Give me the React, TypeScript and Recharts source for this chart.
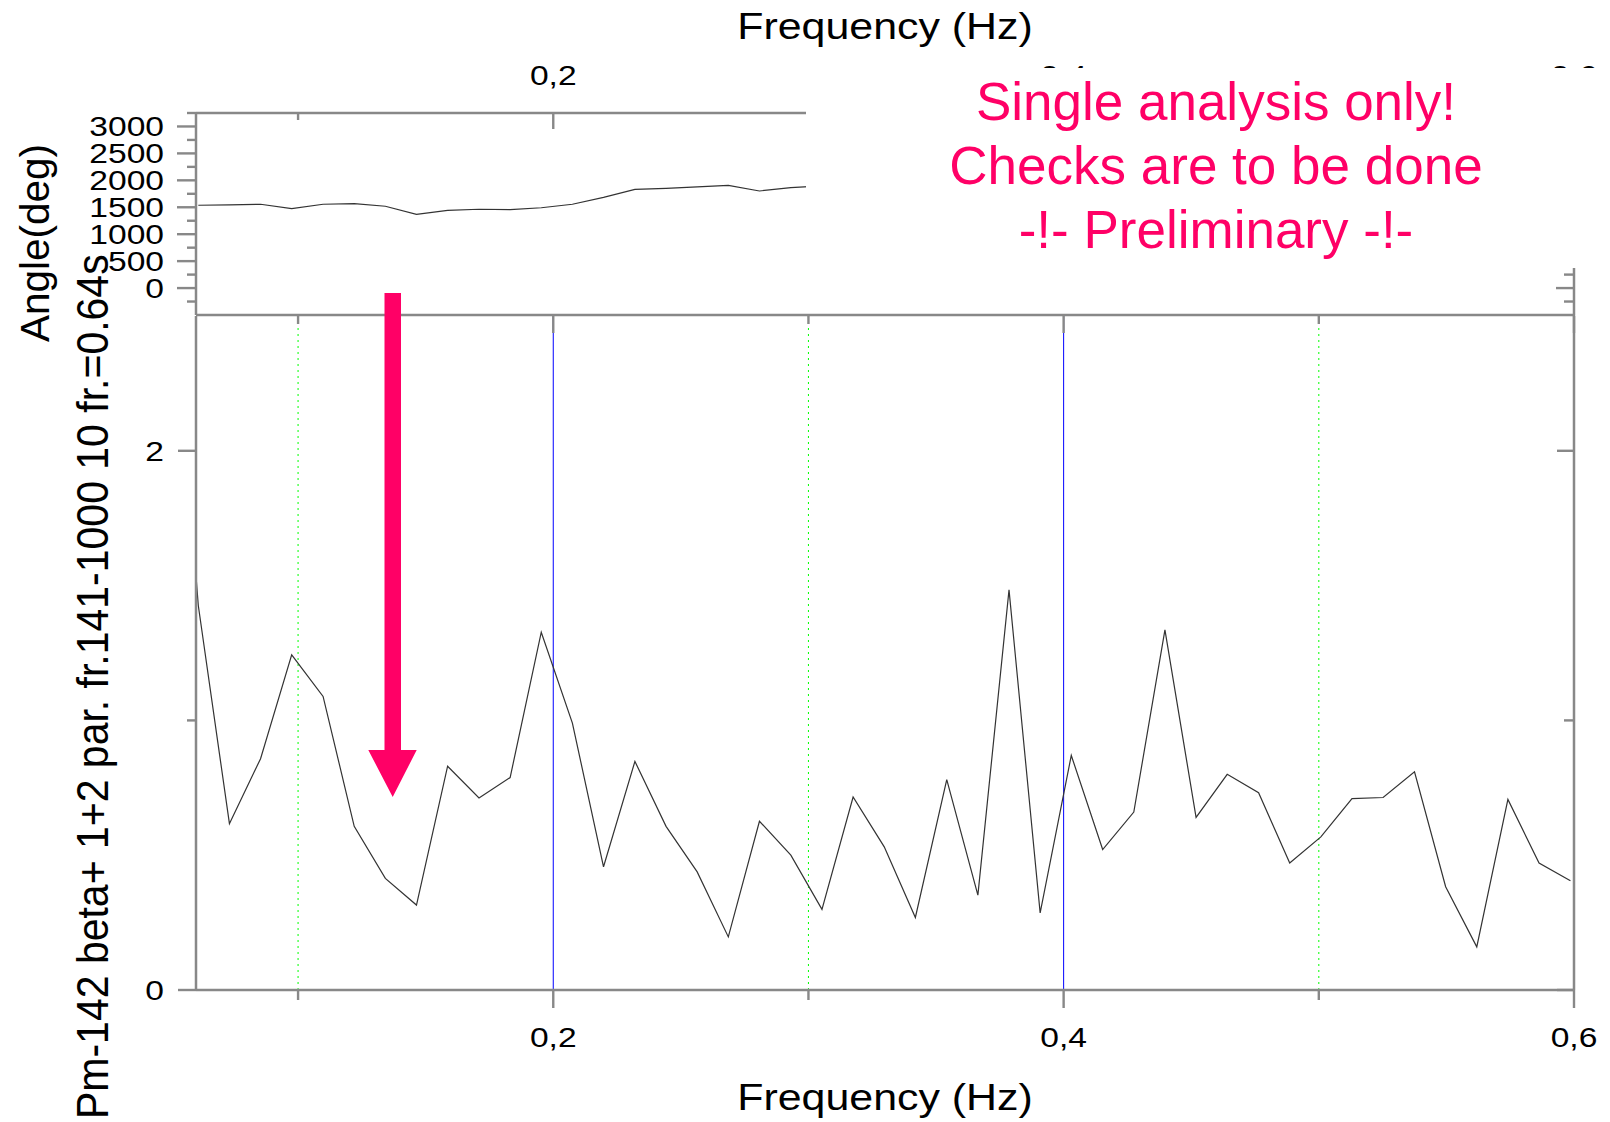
import { LineChart, Line, XAxis, YAxis, ReferenceLine } from 'recharts';

// frequency grid (Hz); the first sample lies left of the plotted range and is clipped
const FREQ = [
  0.0487, 0.0609, 0.0731, 0.0853, 0.0975, 0.1098, 0.122, 0.1342, 0.1464, 0.1586,
  0.1709, 0.1831, 0.1953, 0.2075, 0.2197, 0.232, 0.2442, 0.2564, 0.2686, 0.2808,
  0.2931, 0.3053, 0.3175, 0.3297, 0.3419, 0.3542, 0.3664, 0.3786, 0.3908, 0.403,
  0.4153, 0.4275, 0.4397, 0.4519, 0.4641, 0.4764, 0.4886, 0.5008, 0.513, 0.5252,
  0.5375, 0.5497, 0.5619, 0.5741, 0.5863, 0.5986,
];

// lower panel amplitude
const AMP = [
  2.9, 1.426, 0.617, 0.858, 1.243, 1.089, 0.607, 0.414, 0.315, 0.83,
  0.712, 0.788, 1.327, 0.99, 0.457, 0.848, 0.607, 0.438, 0.197, 0.626,
  0.5, 0.299, 0.716, 0.531, 0.269, 0.78, 0.352, 1.484, 0.286, 0.87,
  0.521, 0.66, 1.336, 0.64, 0.8, 0.732, 0.471, 0.568, 0.71, 0.714,
  0.809, 0.383, 0.16, 0.707, 0.471, 0.405,
];

// upper panel phase angle (deg), visible part only
const ANGLE_FREQ = FREQ.slice(1, 22);
const ANGLE = [
  1537, 1546, 1556, 1476, 1556, 1569, 1519, 1370, 1444, 1463, 1457,
  1491, 1556, 1685, 1833, 1852, 1880, 1907, 1802, 1865, 1898,
];

const X_TICKS = [0.1, 0.2, 0.3, 0.4, 0.5, 0.6];
const X_MAJOR = [0.2, 0.4, 0.6];
const ANGLE_TICKS = [-250, 0, 250, 500, 750, 1000, 1250, 1500, 1750, 2000, 2250, 2500, 2750, 3000, 3250];
const ANGLE_MAJOR = [0, 500, 1000, 1500, 2000, 2500, 3000];
const AMP_TICKS = [0, 1, 2];
const AMP_MAJOR = [0, 2];
const BLUE_LINES = [0.2, 0.4];
const GREEN_LINES = [0.1, 0.3, 0.5];
const NOTE = ['Single analysis only!', 'Checks are to be done', '-!- Preliminary -!-'];

const W = 1610;
const H = 1122;
const AXIS = '#888888';
const FONT = '"Liberation Sans", Arial, sans-serif';
const PINK = '#ff0066';

const ampData = FREQ.map((f, i) => ({ f, amp: AMP[i] }));
const angleData = ANGLE_FREQ.map((f, i) => ({ f, angle: ANGLE[i] }));

const fmt = (v: number) => String(v).replace('.', ',');

type Side = 'left' | 'right' | 'top' | 'bottom';

function tickRenderer(side: Side, inward: boolean, majors: number[], labels: number[], majorLen: number, minorLen: number, gap: number) {
  return (props: any) => {
    const { x, y, payload } = props;
    const v = payload.value;
    const len = majors.includes(v) ? majorLen : minorLen;
    const dir = inward ? -1 : 1;
    let x2 = x;
    let y2 = y;
    if (side === 'left') x2 = x - dir * len;
    if (side === 'right') x2 = x + dir * len;
    if (side === 'top') y2 = y - dir * len;
    if (side === 'bottom') y2 = y + dir * len;
    let label = null;
    if (labels.includes(v)) {
      const lx = side === 'left' ? x - gap : side === 'right' ? x + gap : x;
      const ly = side === 'top' ? y - gap : side === 'bottom' ? y + gap : y;
      const anchor = side === 'left' ? 'end' : side === 'right' ? 'start' : 'middle';
      label = (
        <text transform={`translate(${lx},${ly}) scale(1.2,1)`} dy={10} textAnchor={anchor} fontSize={28} fill="#000">
          {fmt(v)}
        </text>
      );
    }
    return (
      <g>
        <line x1={x} y1={y} x2={x2} y2={y2} stroke={AXIS} strokeWidth={2.4} />
        {label}
      </g>
    );
  };
}

const axisLine = { stroke: AXIS, strokeWidth: 2.5 };

export default function App() {
  return (
    <div style={{ position: 'absolute', left: 0, top: 0, width: W, height: H, background: '#fff', fontFamily: FONT }}>
      {/* lower panel */}
      <div style={{ position: 'absolute', left: 0, top: 0 }}>
        <LineChart width={W} height={H} data={ampData} margin={{ top: 316, right: 35, bottom: 131, left: 195 }}>
          <XAxis
            xAxisId="b"
            dataKey="f"
            type="number"
            domain={[0.06, 0.6]}
            allowDataOverflow
            orientation="bottom"
            height={1}
            ticks={X_TICKS}
            interval={0}
            tickSize={0}
            tickMargin={0}
            tickLine={false}
            axisLine={axisLine}
            tick={tickRenderer('bottom', false, X_MAJOR, X_MAJOR, 18, 10, 47)}
          />
          <YAxis
            yAxisId="l"
            type="number"
            domain={[0, 2.5]}
            allowDataOverflow
            orientation="left"
            width={1}
            ticks={AMP_TICKS}
            interval={0}
            tickSize={0}
            tickMargin={0}
            tickLine={false}
            axisLine={axisLine}
            tick={tickRenderer('left', false, AMP_MAJOR, AMP_MAJOR, 18, 9, 32)}
          />
          <YAxis
            yAxisId="r"
            type="number"
            domain={[0, 2.5]}
            allowDataOverflow
            orientation="right"
            width={1}
            ticks={AMP_TICKS}
            interval={0}
            tickSize={0}
            tickMargin={0}
            tickLine={false}
            axisLine={axisLine}
            tick={tickRenderer('right', true, AMP_MAJOR, [], 17, 10, 0)}
          />
          {GREEN_LINES.map((v) => (
            <ReferenceLine key={`g${v}`} xAxisId="b" yAxisId="l" x={v} stroke="#00ff00" strokeWidth={1} strokeDasharray="2 4" />
          ))}
          {BLUE_LINES.map((v) => (
            <ReferenceLine key={`b${v}`} xAxisId="b" yAxisId="l" x={v} stroke="#0000ff" strokeWidth={1} />
          ))}
          <Line
            xAxisId="b"
            yAxisId="l"
            dataKey="amp"
            type="linear"
            stroke="#333"
            strokeWidth={1.2}
            dot={false}
            activeDot={false}
            isAnimationActive={false}
          />
        </LineChart>
      </div>

      {/* upper panel */}
      <div style={{ position: 'absolute', left: 0, top: 0 }}>
        <LineChart width={W} height={H} data={angleData} margin={{ top: 112, right: 35, bottom: 806, left: 195 }}>
          <XAxis
            xAxisId="t"
            dataKey="f"
            type="number"
            domain={[0.06, 0.6]}
            allowDataOverflow
            orientation="top"
            height={1}
            ticks={X_TICKS}
            interval={0}
            tickSize={0}
            tickMargin={0}
            tickLine={false}
            axisLine={axisLine}
            tick={tickRenderer('top', true, X_MAJOR, X_MAJOR, 16, 7, 38)}
          />
          <XAxis
            xAxisId="b"
            dataKey="f"
            type="number"
            domain={[0.06, 0.6]}
            allowDataOverflow
            orientation="bottom"
            height={1}
            ticks={X_TICKS}
            interval={0}
            tickSize={0}
            tickMargin={0}
            tickLine={false}
            axisLine={axisLine}
            tick={tickRenderer('bottom', false, X_MAJOR, [], 18, 9, 0)}
          />
          <YAxis
            yAxisId="l"
            type="number"
            domain={[-500, 3250]}
            allowDataOverflow
            orientation="left"
            width={1}
            ticks={ANGLE_TICKS}
            interval={0}
            tickSize={0}
            tickMargin={0}
            tickLine={false}
            axisLine={axisLine}
            tick={tickRenderer('left', false, ANGLE_MAJOR, ANGLE_MAJOR, 19, 9, 32)}
          />
          <YAxis
            yAxisId="r"
            type="number"
            domain={[-500, 3250]}
            allowDataOverflow
            orientation="right"
            width={1}
            ticks={ANGLE_TICKS}
            interval={0}
            tickSize={0}
            tickMargin={0}
            tickLine={false}
            axisLine={axisLine}
            tick={tickRenderer('right', true, ANGLE_MAJOR, [], 18, 10, 0)}
          />
          <Line
            xAxisId="t"
            yAxisId="l"
            dataKey="angle"
            type="linear"
            stroke="#333"
            strokeWidth={1.2}
            dot={false}
            activeDot={false}
            isAnimationActive={false}
          />
        </LineChart>
      </div>

      {/* annotations */}
      <svg width={W} height={H} style={{ position: 'absolute', left: 0, top: 0, pointerEvents: 'none' }}>
        <rect x={806} y={68} width={W - 806} height={200} fill="#fff" />
        <text transform="translate(885,39) scale(1.16,1)" textAnchor="middle" fontSize={37} fill="#000">
          Frequency (Hz)
        </text>
        <text transform="translate(885,1110) scale(1.16,1)" textAnchor="middle" fontSize={37} fill="#000">
          Frequency (Hz)
        </text>
        <text transform="translate(49,243) rotate(-90)" textAnchor="middle" fontSize={40.5} fill="#000">
          Angle(deg)
        </text>
        <text transform="translate(108,1119) rotate(-90) scale(1,1.1)" textAnchor="start" fontSize={41} fill="#000">
          Pm-142 beta+ 1+2 par. fr.141-1000 10 fr.=0.64s
        </text>
        {NOTE.map((t, i) => (
          <text key={t} x={1216} y={120 + i * 64} textAnchor="middle" fontSize={53} fill={PINK}>
            {t}
          </text>
        ))}
        <polygon points="384.5,293 401,293 401,750 416.7,750 392.7,797 368.3,750 384.5,750" fill={PINK} />
      </svg>
    </div>
  );
}
